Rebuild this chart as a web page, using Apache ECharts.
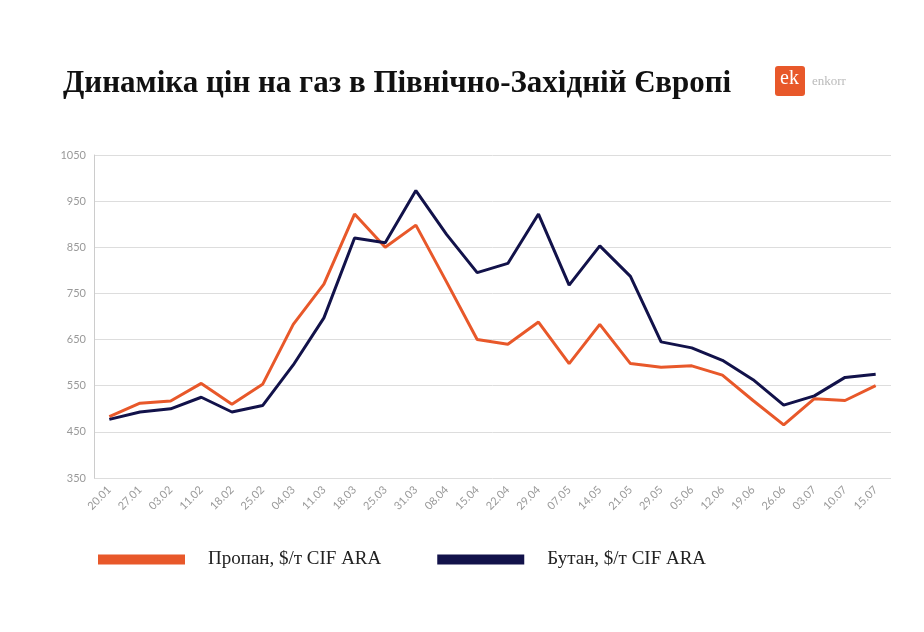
<!DOCTYPE html>
<html><head><meta charset="utf-8">
<script src="https://cdn.jsdelivr.net/npm/echarts@6/dist/echarts.min.js"></script>
<style>html,body{margin:0;background:#fff}#c{width:924px;height:632px}</style>
</head><body><div id="c"></div>
<script>
const categories = ["20.01","27.01","03.02","11.02","18.02","25.02","04.03","11.03","18.03","25.03","31.03","08.04","15.04","22.04","29.04","07.05","14.05","21.05","29.05","05.06","12.06","19.06","26.06","03.07","10.07","15.07"];
const propane = [483,512,517,555,510,553,683,770,922,850,898,775,650,640,688,598,683,598,590,593,573,518,465,522,518,550];
const butane = [477,493,500,525,493,507,595,697,870,860,973,878,795,815,922,768,853,787,645,632,605,563,508,528,568,575];
const yTicks = [350,450,550,650,750,850,950,1050];
const ORANGE = "#e8582a", NAVY = "#12124a";
const chart = echarts.init(document.getElementById('c'));
chart.setOption({
  animation:false,
  title:{text:"Динаміка цін на газ в Північно-Західній Європі",left:58,top:63,
    textStyle:{fontFamily:"Liberation Serif",fontWeight:"bold",fontSize:31,color:"#111"}},
  graphic:[
    {type:'rect',left:775,top:66,shape:{width:30,height:30,r:3},style:{fill:ORANGE},z:10},
    {type:'text',left:780,top:69,style:{text:'ek',fill:'#fff',font:'20px "Liberation Serif"'},z:11},
    {type:'text',left:812,top:75,style:{text:'enkorr',fill:'#bbb',font:'13px "Liberation Serif"'},z:11}
  ],
  grid:{left:94,right:33,top:155,bottom:154},
  legend:{left:93,top:545,itemWidth:87,itemHeight:10,itemGap:56,icon:'rect',
    textStyle:{fontFamily:"Liberation Serif",fontSize:19,color:"#222",padding:[0,0,0,18]},
    data:["Пропан, $/т CIF ARA","Бутан, $/т CIF ARA"]},
  xAxis:{type:'category',data:categories,boundaryGap:true,
    axisLine:{show:false},axisTick:{show:false},
    axisLabel:{rotate:45,color:"#999",fontSize:11,fontFamily:"Lato",interval:0,margin:10}},
  yAxis:{type:'value',min:350,max:1050,interval:100,
    axisLine:{show:true,lineStyle:{color:"#ccc"}},axisTick:{show:false},
    axisLabel:{color:"#999",fontSize:11,fontFamily:"Lato",formatter:v=>yTicks.includes(v)?v:''},
    splitLine:{lineStyle:{color:"#ddd"}}},
  series:[
    {name:"Пропан, $/т CIF ARA",type:'line',data:propane,symbol:'none',lineStyle:{color:ORANGE,width:3},itemStyle:{color:ORANGE}},
    {name:"Бутан, $/т CIF ARA",type:'line',data:butane,symbol:'none',lineStyle:{color:NAVY,width:3},itemStyle:{color:NAVY}}
  ]
});
</script></body></html>
